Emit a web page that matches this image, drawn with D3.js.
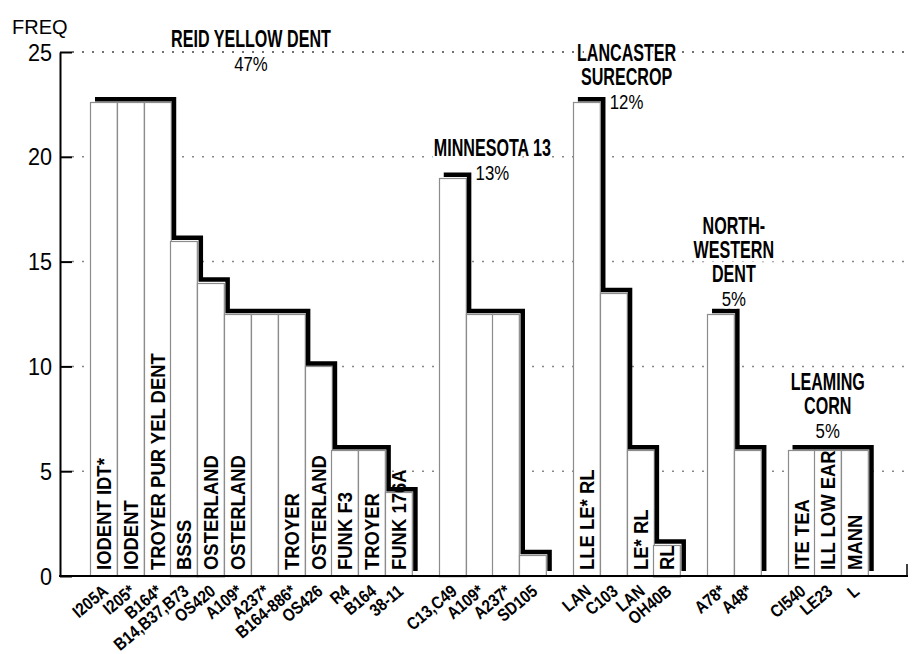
<!DOCTYPE html>
<html>
<head>
<meta charset="utf-8">
<script src="https://cdn.jsdelivr.net/npm/d3@7"></script>
<style>
body { margin: 0; background: #fff; }
svg { display: block; font-family: "Liberation Sans", Arial, sans-serif; }
</style>
</head>
<body>
<svg id="chart" width="912" height="654"></svg>
<script>
// one entry per bar, left to right
var varieties = ["I205A","I205*","B164*","B14,B37,B73","OS420","A109*","A237*","B164-886*","OS426","R4","B164","38-11",
                 "C13,C49","A109*","A237*","SD105",
                 "LAN","C103","LAN","OH40B",
                 "A78*","A48*",
                 "CI540","LE23","L"];
var freqs = [22.6,22.6,22.6,16,14,12.5,12.5,12.5,10,6,6,4,
             19,12.5,12.5,1,
             22.6,13.5,6,1.5,
             12.5,6,
             6,6,6];
var pedigree = ["IODENT IDT*","IODENT","TROYER PUR YEL DENT","BSSS","OSTERLAND","OSTERLAND","","TROYER","OSTERLAND","FUNK F3","TROYER","FUNK 176A",
                "","","","",
                "LLE LE* RL","","LE* RL","RL",
                "","",
                "ITE TEA","ILL LOW EAR","MANN"];
var groupOf = [0,0,0,0,0,0,0,0,0,0,0,0, 1,1,1,1, 2,2,2,2, 3,3, 4,4,4];

var groupTitles = [["REID YELLOW DENT"],["MINNESOTA 13"],["LANCASTER","SURECROP"],["NORTH-","WESTERN","DENT"],["LEAMING","CORN"]];
var groupShares = ["47%","13%","12%","5%","5%"];
var yTicks = [0,5,10,15,20,25];

// where the share line of each group title sits, in FREQ units
var shareLevel = [24.1,18.9,22.3,12.9,6.6];

var svg = d3.select("#chart");

// one empty slot between groups
var slot = varieties.map(function(d,i){ return i + groupOf[i]; });
var nSlots = d3.max(slot) + 1;

var x = d3.scaleBand()
    .domain(d3.range(nSlots))
    .range([90, 868])
    .padding(0);
var bw = x.bandwidth();

var y = d3.scaleLinear()
    .domain([0,25])
    .range([576,52]);

// dotted grid
svg.append("g")
  .selectAll("line")
  .data(yTicks.filter(function(t){ return t > 0; }))
  .enter().append("line")
    .attr("x1", 72).attr("x2", 908)
    .attr("y1", function(d){ return y(d); })
    .attr("y2", function(d){ return y(d); })
    .attr("stroke", function(d){ return d == 25 ? "#444" : "#888"; })
    .attr("stroke-width", 1.5)
    .attr("stroke-dasharray", "2,8");

// bars
svg.append("g")
  .selectAll("rect")
  .data(freqs)
  .enter().append("rect")
    .attr("x", function(d,i){ return Math.round(x(slot[i])) + 0.5; })
    .attr("y", function(d){ return Math.round(y(d)) + 0.5; })
    .attr("width", bw)
    .attr("height", function(d){ return y(0) - y(d); })
    .attr("fill", "#fff")
    .attr("stroke", "#8c8c8c")
    .attr("stroke-width", 1.2);

// heavy staircase along the top/right of each group
function stepPath(idx){
  var p = "M" + (x(slot[idx[0]]) + 5) + "," + (y(freqs[idx[0]]) - 3);
  idx.forEach(function(i,k){
    p += "H" + (x(slot[i]) + bw + 3.5);
    var next = k < idx.length - 1 ? y(freqs[idx[k+1]]) - 3 : y(0) - 5;
    p += "V" + next;
  });
  return p;
}
var groups = d3.range(groupTitles.length).map(function(g){
  return d3.range(varieties.length).filter(function(i){ return groupOf[i] == g; });
});
svg.append("g")
  .selectAll("path")
  .data(groups)
  .enter().append("path")
    .attr("d", stepPath)
    .attr("fill", "none")
    .attr("stroke", "#000")
    .attr("stroke-width", 4.5)
    .attr("stroke-linejoin", "miter");

// pedigree names inside the bars
svg.append("g")
  .selectAll("text")
  .data(pedigree)
  .enter().append("text")
    .attr("transform", function(d,i){
      return "translate(" + (x(slot[i]) + 21) + "," + 570 + ") rotate(-90) scale(0.88,1)";
    })
    .attr("font-size", 21)
    .attr("font-weight", "bold")
    .text(function(d){ return d; });

// group titles with their share
groupTitles.forEach(function(lines, g){
  var idx = groups[g];
  var cx = (x(slot[idx[0]]) + x(slot[idx[idx.length-1]]) + bw) / 2;
  var shareY = y(shareLevel[g]);
  var t = svg.append("g");
  lines.forEach(function(s,k){
    t.append("text")
      .attr("transform", "translate(" + cx + "," + (shareY - (lines.length - k) * 24) + ") scale(0.7,1.08)")
      .attr("text-anchor", "middle")
      .attr("font-size", 23)
      .attr("font-weight", "bold")
      .attr("stroke", "#fff").attr("stroke-width", 6).attr("paint-order", "stroke")
      .text(s);
  });
  t.append("text")
    .attr("transform", "translate(" + cx + "," + shareY + ") scale(0.8,1)")
    .attr("text-anchor", "middle")
    .attr("font-size", 21)
    .attr("stroke", "#fff").attr("stroke-width", 5).attr("paint-order", "stroke")
    .text(groupShares[g]);
});

// y axis
var yAxis = svg.append("g")
    .attr("transform", "translate(60,0)")
    .call(d3.axisLeft(y).tickValues(yTicks).tickSize(-12).tickSizeOuter(0).tickPadding(8));
yAxis.select(".domain").attr("stroke-width", 2);
yAxis.selectAll(".tick line").attr("stroke-width", 2);
yAxis.selectAll(".tick text")
    .attr("font-family", "Liberation Sans, Arial, sans-serif")
    .attr("font-size", 24)
    .attr("x", -8 / 0.9)
    .attr("dy", "0.34em")
    .attr("transform", "scale(0.9,1)");

svg.append("text")
    .attr("x", 12).attr("y", 34)
    .attr("font-size", 20)
    .text("FREQ");

// x axis: baseline plus rotated variety labels
svg.append("line")
    .attr("x1", 59).attr("x2", 908)
    .attr("y1", y(0)).attr("y2", y(0))
    .attr("stroke", "#000").attr("stroke-width", 2);
svg.append("line")
    .attr("x1", 907).attr("x2", 907)
    .attr("y1", y(0)).attr("y2", y(0) - 12)
    .attr("stroke", "#000").attr("stroke-width", 1.5);

svg.append("g")
  .selectAll("text")
  .data(varieties)
  .enter().append("text")
    .attr("transform", function(d,i){
      return "translate(" + (x(slot[i]) + bw / 2 + 6) + ",593) rotate(-40) scale(0.86,1)";
    })
    .attr("text-anchor", "end")
    .attr("font-size", 17.5)
    .attr("font-weight", "bold")
    .text(function(d){ return d; });
</script>
</body>
</html>
